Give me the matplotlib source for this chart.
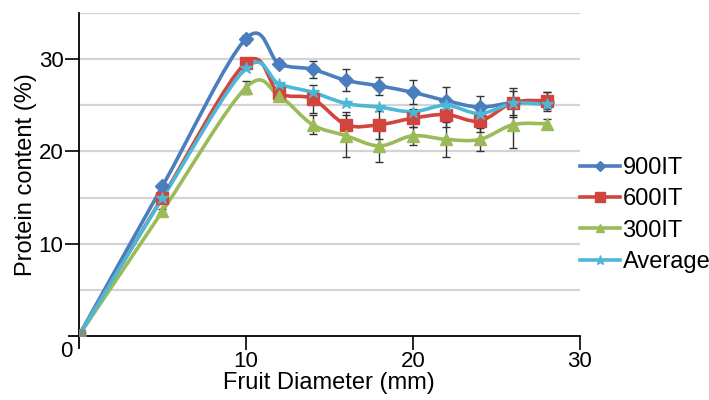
import matplotlib
matplotlib.use("Agg")
import matplotlib.pyplot as plt
import numpy as np
from matplotlib.lines import Line2D
from matplotlib.path import Path
from matplotlib.patches import PathPatch

plt.rcParams["font.family"] = ["Liberation Sans", "DejaVu Sans"]

diameter = [0, 5, 10, 12, 14, 16, 18, 20, 22, 24, 26, 28]
it900 = [0, 16.2, 32.2, 29.5, 28.9, 27.7, 27.1, 26.4, 25.5, 24.8, 25.3, 25.4]
it600 = [0, 15.0, 29.6, 26.3, 25.7, 22.9, 22.9, 23.6, 24.0, 23.3, 25.3, 25.5]
it300 = [0, 13.5, 26.9, 26.0, 22.9, 21.7, 20.6, 21.7, 21.3, 21.3, 22.9, 23.0]
average = [0, 14.9, 29.0, 27.3, 26.4, 25.2, 24.8, 24.3, 25.0, 24.1, 25.2, 25.1]
err900 = [0, 0.3, 0.4, 0.4, 0.9, 1.2, 1.0, 1.3, 1.5, 1.2, 1.6, 1.0]
err600 = [0, 0.3, 0.5, 0.5, 1.5, 1.4, 1.5, 1.0, 1.4, 1.2, 1.3, 0.9]
err300 = [0, 0.3, 0.7, 0.5, 1.0, 2.3, 1.7, 1.0, 1.9, 1.2, 2.5, 0.5]

series = [
    ("900IT", it900, err900, "#4a7ebf", "D", 7),
    ("600IT", it600, err600, "#d2453f", "s", 9),
    ("300IT", it300, err300, "#9bbb59", "^", 8),
    ("Average", average, None, "#4bb8d8", "*", 9),
]


def smooth_path(x, y):
    # Excel-style smoothed line: Catmull-Rom as cubic Bezier segments
    pts = np.column_stack([x, y]).astype(float)
    verts = [pts[0]]
    codes = [Path.MOVETO]
    n = len(pts)
    for i in range(n - 1):
        p0 = pts[max(i - 1, 0)]
        p1 = pts[i]
        p2 = pts[i + 1]
        p3 = pts[min(i + 2, n - 1)]
        c1 = p1 + (p2 - p0) / 6.0
        c2 = p2 - (p3 - p1) / 6.0
        verts += [c1, c2, p2]
        codes += [Path.CURVE4] * 3
    return Path(verts, codes)


fig = plt.figure(figsize=(7.09, 4.0), dpi=100)
ax = fig.add_axes([0.111, 0.16, 0.707, 0.8075])

for val in [5, 10, 15, 20, 25, 30, 35]:
    ax.axhline(val, color="#d4d4d4", lw=1.6, zorder=0)

for name, vals, err, color, marker, ms in series:
    patch = PathPatch(smooth_path(diameter, vals), facecolor="none",
                      edgecolor=color, lw=2.6, zorder=2)
    ax.add_patch(patch)
    if err is not None:
        ax.errorbar(diameter, vals, yerr=err, fmt="none", ecolor="#333333",
                    elinewidth=1.0, capsize=3, capthick=1.0, zorder=3)
    ax.plot(diameter, vals, linestyle="none", marker=marker, markersize=ms,
            color=color, markeredgecolor=color, zorder=4)

ax.plot([0], [0], marker="s", markersize=9, color="#7f8f7f", zorder=5)

ax.set_xlim(0, 30)
ax.set_ylim(0, 35)
ax.set_xticks([10, 20, 30])
ax.set_yticks([10, 20, 30])
ax.tick_params(axis="both", labelsize=16, length=10, width=1.2, direction="out", pad=1)
for sp in ["top", "right"]:
    ax.spines[sp].set_visible(False)
ax.spines["left"].set_linewidth(1.3)
ax.spines["bottom"].set_linewidth(1.3)
ax.spines["left"].set_bounds(-1.3, 35)
ax.spines["bottom"].set_bounds(-0.6, 30)
ax.spines["left"].set_clip_on(False)
ax.text(-0.75, -1.7, "0", fontsize=16, ha="center", va="center")

ax.set_xlabel("Fruit Diameter (mm)", fontsize=17, labelpad=0)
ax.set_ylabel("Protein content (%)", fontsize=17, labelpad=1)

handles = [Line2D([0], [0], color=c, lw=2.6, marker=m, markersize=ms * 0.75)
           for _, _, _, c, m, ms in series]
fig.legend(handles, [s[0] for s in series], loc="upper left",
           bbox_to_anchor=(0.818, 0.608), frameon=False, fontsize=17,
           handlelength=1.7, handletextpad=0.1, labelspacing=0.4,
           borderaxespad=0, borderpad=0)

fig.savefig("out.png", dpi=100)
